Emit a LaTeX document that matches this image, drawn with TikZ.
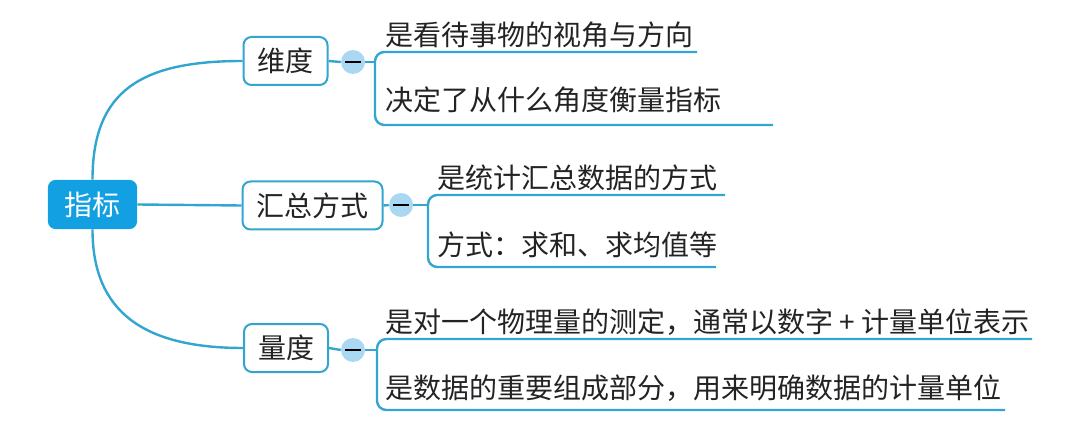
\documentclass[tikz,border=0pt]{standalone}
\usepackage{fontspec}
\setmainfont{Noto Sans CJK SC}
\usetikzlibrary{calc}
\definecolor{lineblue}{RGB}{50,165,208}
\definecolor{rootblue}{RGB}{18,160,226}
\definecolor{circfill}{RGB}{170,216,242}
\definecolor{txt}{RGB}{35,35,35}
\begin{document}
\begin{tikzpicture}[x=0.75pt,y=-0.75pt,
  conn/.style={draw=lineblue,line width=1.8pt},
  rootbox/.style={fill=rootblue,draw=none,rounded corners=6pt,minimum width=67pt,minimum height=37pt,inner sep=0pt,text=white,font=\fontsize{21}{24}\selectfont},
  topicbox/.style={draw=lineblue,line width=1.5pt,fill=white,rounded corners=6pt,minimum height=36pt,inner xsep=10.5pt,inner ysep=0pt,text=txt,font=\fontsize{21}{24}\selectfont},
  foldcirc/.style={circle,fill=circfill,draw=none,minimum size=18pt,inner sep=0pt},
  itemtext/.style={anchor=west,inner sep=0pt,text=txt,font=\fontsize{21}{24}\selectfont},
  dashmark/.style={draw=black,line width=1.4pt}
]
\useasboundingbox (0,0) rectangle (1080,434);

% root
\node[rootbox] (root) at (92.5,204.5) {指标};

% topics
\node[topicbox] (b1) at (285.5,61) {维度};
\node[topicbox] (b2) at (312.5,205.5) {汇总方式};
\node[topicbox] (b3) at (286,348) {量度};

% root connectors
\draw[conn] (root.north) .. controls ($(root.north)+(0,-90)$) and ($(b1.west)+(-100,0)$) .. (b1.west);
\draw[conn] (root.east) -- (b2.west);
\draw[conn] (root.south) .. controls ($(root.south)+(0,82)$) and ($(b3.west)+(-100,0)$) .. (b3.west);

% fold circles
\node[foldcirc] (c1) at (353,62) {};
\node[foldcirc] (c2) at (401,205) {};
\node[foldcirc] (c3) at (353,350) {};
\foreach \c in {c1,c2,c3}{
  \draw[dashmark] ($(\c)+(-8,0)$) -- ($(\c)+(8,0)$);
}

% group 1
\coordinate (k1) at (375,62);
\coordinate (k1t) at (375,52);
\coordinate (k1b) at (375,125);
\coordinate (e11) at (697,52);
\coordinate (e12) at (773,125);
\draw[conn] (b1.east) -- (c1.west);
\draw[conn] (c1.east) -- (k1);
\draw[conn,rounded corners=7pt] (e11) -- (k1t) -- (k1b) -- (e12);
\node[itemtext] (t11) at (385,35) {是看待事物的视角与方向};
\node[itemtext] (t12) at (385,100) {决定了从什么角度衡量指标};

% group 2
\coordinate (k2) at (428,205);
\coordinate (k2t) at (428,195);
\coordinate (k2b) at (428,267);
\coordinate (e21) at (725,195);
\coordinate (e22) at (716,267);
\draw[conn] (b2.east) -- (c2.west);
\draw[conn] (c2.east) -- (k2);
\draw[conn,rounded corners=7pt] (e21) -- (k2t) -- (k2b) -- (e22);
\node[itemtext] (t21) at (437,178) {是统计汇总数据的方式};
\node[itemtext] (t22) at (437,245) {方式：求和、求均值等};

% group 3
\coordinate (k3) at (377,350);
\coordinate (k3t) at (377,339);
\coordinate (k3b) at (377,410);
\coordinate (e31) at (1032,339);
\coordinate (e32) at (1005,410);
\draw[conn] (b3.east) -- (c3.west);
\draw[conn] (c3.east) -- (k3);
\draw[conn,rounded corners=7pt] (e31) -- (k3t) -- (k3b) -- (e32);
\node[itemtext] (t31) at (385,322) {是对一个物理量的测定，通常以数字 + 计量单位表示};
\node[itemtext] (t32) at (385,388) {是数据的重要组成部分，用来明确数据的计量单位};
\end{tikzpicture}
\end{document}
